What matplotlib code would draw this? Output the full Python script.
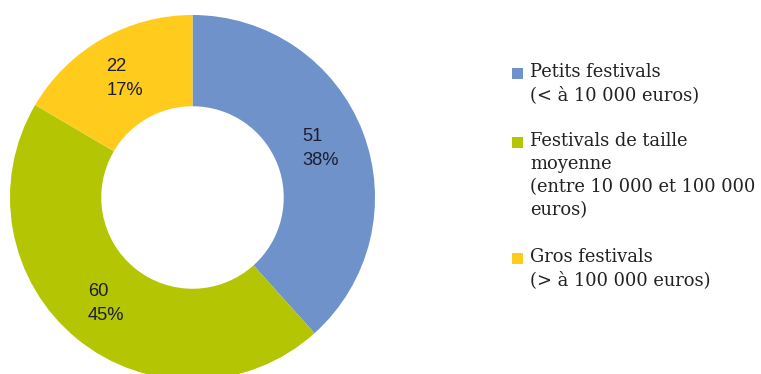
import matplotlib
matplotlib.use("Agg")
import matplotlib.pyplot as plt
from matplotlib.patches import Rectangle

# ---- data ----
categories = ["Petits festivals\n(< à 10 000 euros)",
              "Festivals de taille\nmoyenne\n(entre 10 000 et 100 000\neuros)",
              "Gros festivals\n(> à 100 000 euros)"]
values = [51, 60, 22]
colors = ["#6f92cb", "#b3c503", "#ffcb1d"]

W, H = 761, 374
fig = plt.figure(figsize=(W / 100, H / 100), dpi=100)
ax = fig.add_axes([0, 0, 1, 1])

cx, cy = 192.5, H - 197.5
R = 182.5
total = sum(values)

def fmt(p):
    v = int(round(p * total / 100.0))
    return f"{v}\n{p:.0f}%"

wedges, texts, autotexts = ax.pie(
    values, colors=colors, startangle=90, counterclock=False,
    center=(cx, cy), radius=R,
    wedgeprops=dict(width=R * 0.5, linewidth=0),
    autopct=fmt, pctdistance=0.75,
    textprops=dict(family="Liberation Sans", fontsize=13.2, color="#1e1e2e"))
for t in autotexts:
    t.set_multialignment("left")
    t.set_linespacing(1.55)

ax.set_xlim(0, W)
ax.set_ylim(0, H)
ax.set_aspect("equal")
ax.axis("off")

# ---- legend (manual) ----
first_line_y = [73, 142, 258]
for lab, col, y in zip(categories, colors, first_line_y):
    ax.add_patch(Rectangle((512, H - y - 5.5), 11, 11, facecolor=col,
                           edgecolor="none"))
    ax.text(530, H - y + 10.5, lab, ha="left", va="top",
            family="DejaVu Serif", fontsize=12.9, color="#222222",
            linespacing=1.37)

fig.savefig("out.png", dpi=100)
